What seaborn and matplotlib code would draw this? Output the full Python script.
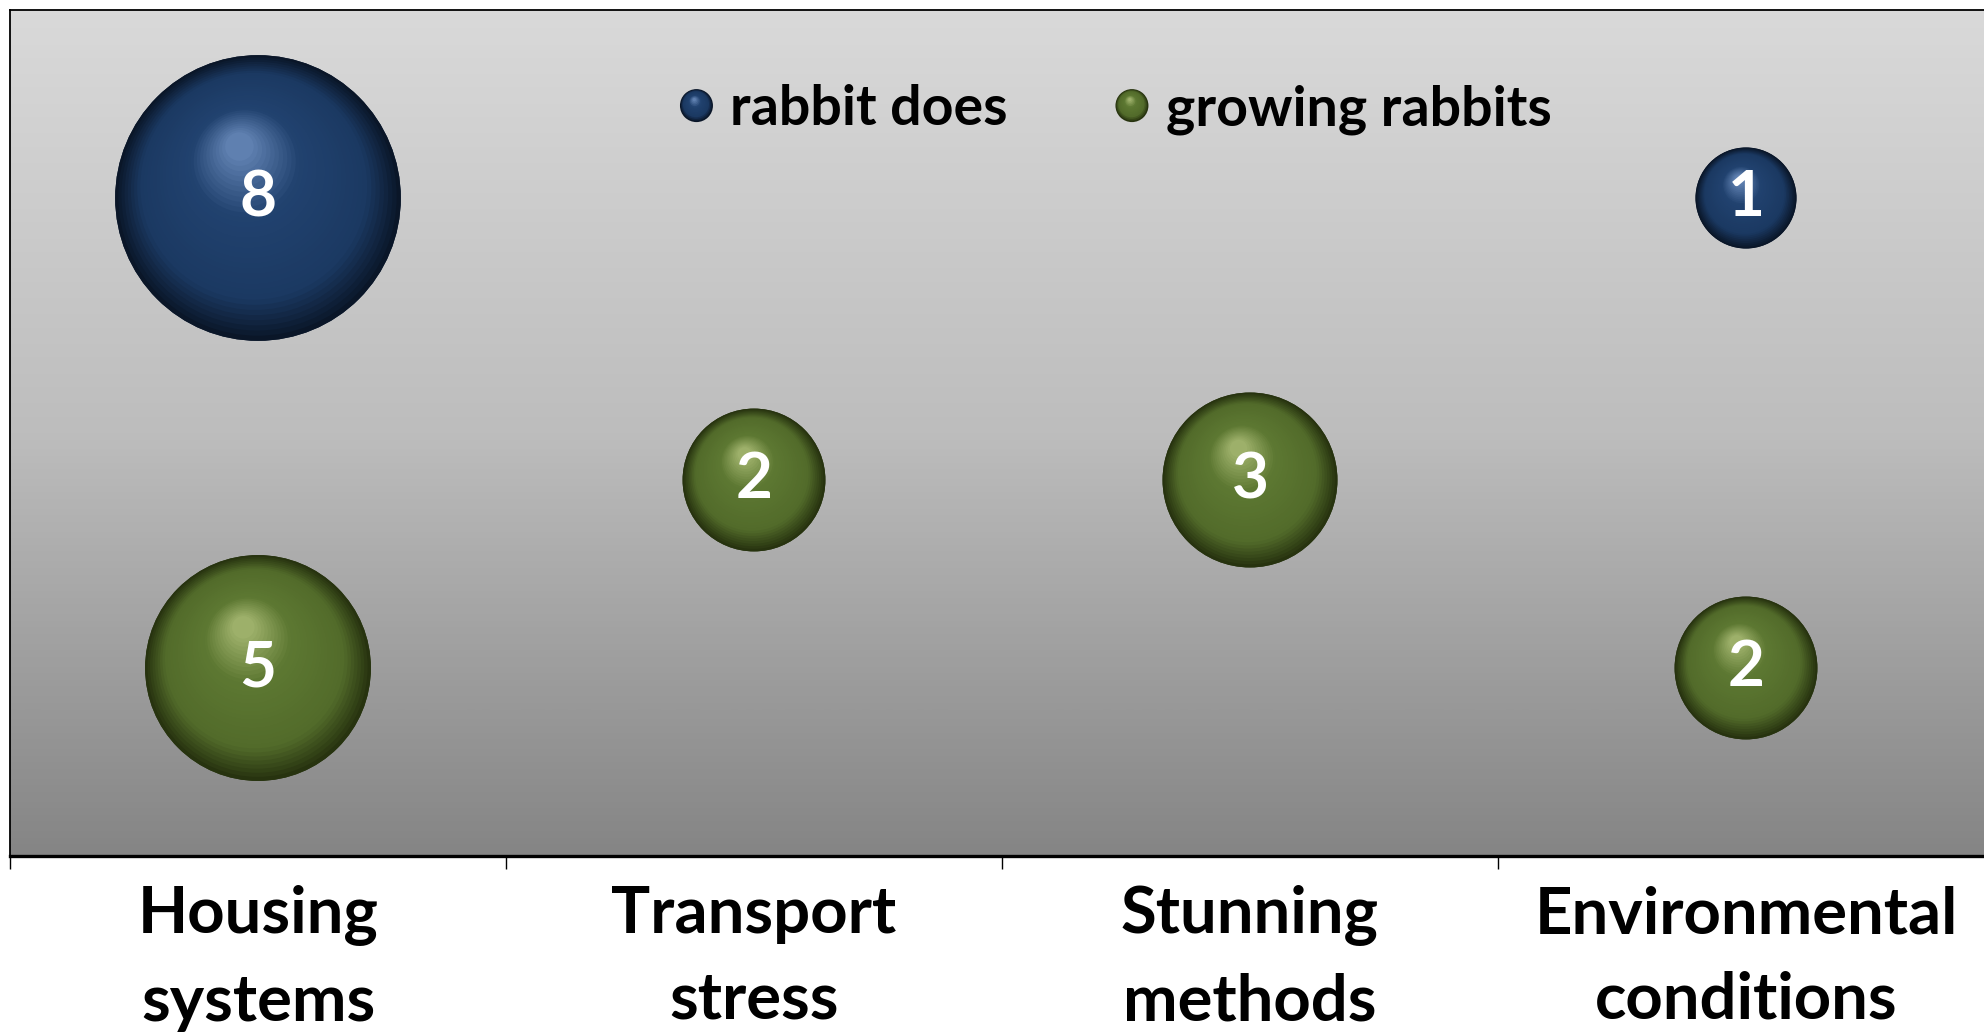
import numpy as np
import pandas as pd
import matplotlib
matplotlib.use("Agg")
import matplotlib.pyplot as plt
import matplotlib.colors as mcolors
from matplotlib.transforms import ScaledTranslation
import seaborn as sns

# ---------------- data ----------------
categories = ["Housing\nsystems", "Transport\nstress", "Stunning\nmethods", "Environmental\nconditions"]
groups = ["rabbit does", "growing rabbits"]
does_categories = ["Housing\nsystems", "Environmental\nconditions"]
does_counts = [8, 1]
does_levels = [3.5, 3.5]
growing_categories = ["Housing\nsystems", "Transport\nstress", "Stunning\nmethods", "Environmental\nconditions"]
growing_counts = [5, 2, 3, 2]
growing_levels = [1, 2, 2, 1]

# ---------------- style ----------------
sns.set_theme(style="white")
plt.rcParams["font.family"] = ["Lato", "DejaVu Sans"]
plt.rcParams["font.weight"] = "bold"

W, H, DPI = 1984, 1033, 100
fig = plt.figure(figsize=(W / DPI, H / DPI), dpi=DPI)
fig.patch.set_facecolor("white")

left_px, top_px, bottom_px = 10, 10, 856
right_px = left_px + 4 * 496
ax = fig.add_axes([left_px / W, (H - bottom_px) / H, (right_px - left_px) / W, (bottom_px - top_px) / H])

cat_pos = {c: i for i, c in enumerate(categories)}
df = pd.DataFrame({
    "category": does_categories + growing_categories,
    "group": [groups[0]] * len(does_counts) + [groups[1]] * len(growing_counts),
    "count": does_counts + growing_counts,
    "level": does_levels + growing_levels,
})
df["x"] = df["category"].map(cat_pos)

AREA = (101 * 72 / DPI) ** 2  # marker area (pt^2) per unit count
palette = {"rabbit does": "#0d1c33", "growing rabbits": "#2b3814"}
shades = {
    "rabbit does": ["#0a1628", "#1b3962", "#21426f", "#5f80b0"],
    "growing rabbits": ["#27330f", "#526b2a", "#5d7832", "#9db06a"],
}

# background gradient
xlim = (-0.5, 3.5)
ylim = (0, 4.5)
grad_cmap = mcolors.LinearSegmentedColormap.from_list("bg", ["#d9d9d9", "#bdbdbd", "#858585"])
ax.imshow(np.linspace(0, 1, 256).reshape(-1, 1), extent=[xlim[0], xlim[1], ylim[0], ylim[1]],
          cmap=grad_cmap, aspect="auto", origin="upper", zorder=0, interpolation="bicubic")

sns.scatterplot(data=df, x="x", y="level", hue="group", size="count", palette=palette,
                sizes=(1 * AREA, 8 * AREA), size_norm=(1, 8), legend=False,
                edgecolor="none", linewidth=0, ax=ax, zorder=3)


def color_at(stops, t):
    pos = [0.0, 0.22, 0.68, 1.0]
    rgbs = [np.array(mcolors.to_rgb(c)) for c in stops]
    for k in range(len(pos) - 1):
        if t <= pos[k + 1]:
            f = (t - pos[k]) / (pos[k + 1] - pos[k])
            return tuple(rgbs[k] * (1 - f) + rgbs[k + 1] * f)
    return tuple(rgbs[-1])


def sphere(ax, x, y, s, stops, transform_base, n=36, z=4):
    r = np.sqrt(s) / 2.0
    for i in range(n):
        t = i / (n - 1)
        rr = r * (1 - 0.9 * t)
        dx = -0.13 * r * t
        dy = 0.36 * r * t
        tr = transform_base + ScaledTranslation(dx / 72, dy / 72, fig.dpi_scale_trans)
        ax.scatter([x], [y], s=(2 * rr) ** 2, color=color_at(stops, t), transform=tr,
                   edgecolors="none", linewidths=0, zorder=z + i * 0.001)


for _, row in df.iterrows():
    sphere(ax, row["x"], row["level"], row["count"] * AREA, shades[row["group"]], ax.transData)
    ax.text(row["x"], row["level"], str(row["count"]), color="white", fontsize=46,
            fontweight="bold", ha="center", va="center", zorder=10)

# legend (manual, sphere markers)
leg_items = [(0.346, groups[0]), (0.5655, groups[1])]
leg_y = 0.887
for lx, g in leg_items:
    sphere(ax, lx, leg_y, (33 * 72 / DPI) ** 2, shades[g], ax.transAxes, n=14, z=6)
    ax.text(lx + 0.017, 0.864, g, transform=ax.transAxes, fontsize=40, fontweight="bold",
            ha="left", va="baseline", color="black", zorder=10)

ax.set_xlim(*xlim)
ax.set_ylim(*ylim)

# axes decoration
ax.set_xticks(np.arange(-0.5, len(categories), 1.0))
ax.set_xticklabels([])
ax.set_xticks(np.arange(len(categories)), labels=categories, minor=True)
ax.tick_params(axis="x", which="major", length=9.5, width=1.0, color="black", direction="out", bottom=True)
ax.tick_params(axis="x", which="minor", length=0, pad=21, labelsize=47, labelcolor="black")
for lab in ax.get_xticklabels(minor=True):
    lab.set_fontweight("bold")
    lab.set_linespacing(1.55)
ax.set_yticks([])
ax.set_xlabel("")
ax.set_ylabel("")
for side in ["left", "top", "right"]:
    ax.spines[side].set_visible(True)
    ax.spines[side].set_color("black")
    ax.spines[side].set_linewidth(1.3)
ax.spines["bottom"].set_color("black")
ax.spines["bottom"].set_linewidth(2.4)
ax.spines["bottom"].set_visible(True)

fig.savefig("out.png", dpi=DPI, facecolor="white")
